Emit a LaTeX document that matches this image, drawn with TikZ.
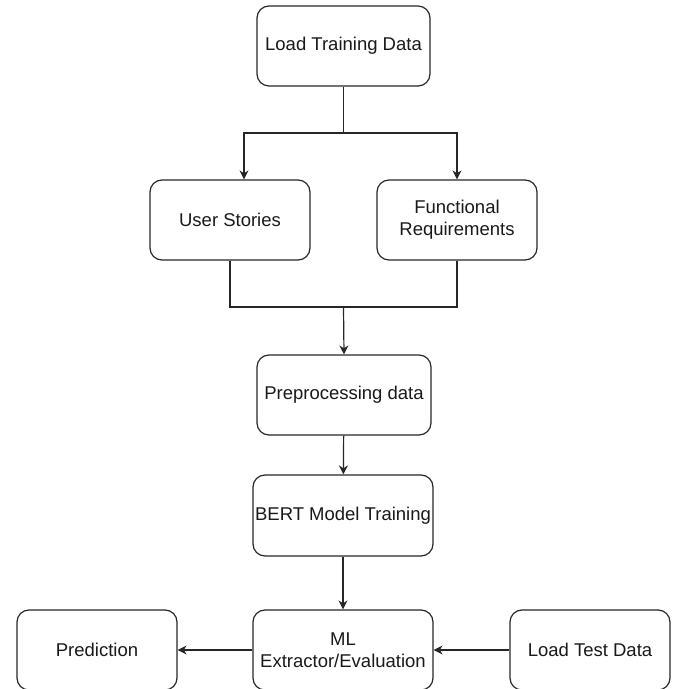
\documentclass[tikz,border=0pt]{standalone}
\usepackage{fontspec}
\setmainfont{Liberation Sans}
\usetikzlibrary{arrows.meta, positioning, calc}

\begin{document}
\begin{tikzpicture}[x=1pt, y=1pt,
    box/.style={draw=black!85, line width=1.2pt, rounded corners=12pt, minimum height=80pt, inner sep=0pt, align=center, font=\fontsize{18.5}{22}\selectfont, text=black!90},
    flow/.style={draw=black!85, line width=1.2pt, -{Stealth[length=9pt, width=9pt]}},
    line/.style={draw=black!85, line width=1.2pt}]
\useasboundingbox (0,0) rectangle (676,689);

\node[box, minimum width=173pt] (load) at (343.5,643) {Load Training Data};

\node[box, minimum width=160pt] (stories) at (230,469) {User Stories};
\node[box, minimum width=160pt] (reqs) at (457,469) {Functional\\Requirements};

\node[box, minimum width=174pt] (prep) at (344,294) {Preprocessing data};
\node[box, minimum width=180pt, minimum height=81pt] (bert) at (343,173.5) {BERT Model Training};

\node[box, minimum width=180pt] (ml) at (343,39) {ML\\Extractor/Evaluation};
\node[box, minimum width=160pt] (pred) at (97,39) {Prediction};
\node[box, minimum width=160pt] (test) at (590,39) {Load Test Data};

% split and join points
\coordinate (split) at (343.5,556);
\coordinate (join) at (343.5,382);

\draw[line] (load.south) -- (split);
\draw[flow] (split) -| ([xshift=14pt]stories.north);
\draw[flow] (split) -| (reqs.north);

\draw[line] (stories.south) |- (join);
\draw[line] (reqs.south) |- (join);
\draw[flow] (join) -- (prep.north);

\draw[flow] (prep) -- (bert);
\draw[flow] (bert) -- (ml);
\draw[flow] (ml) -- (pred);
\draw[flow] (test) -- (ml);
\end{tikzpicture}
\end{document}
